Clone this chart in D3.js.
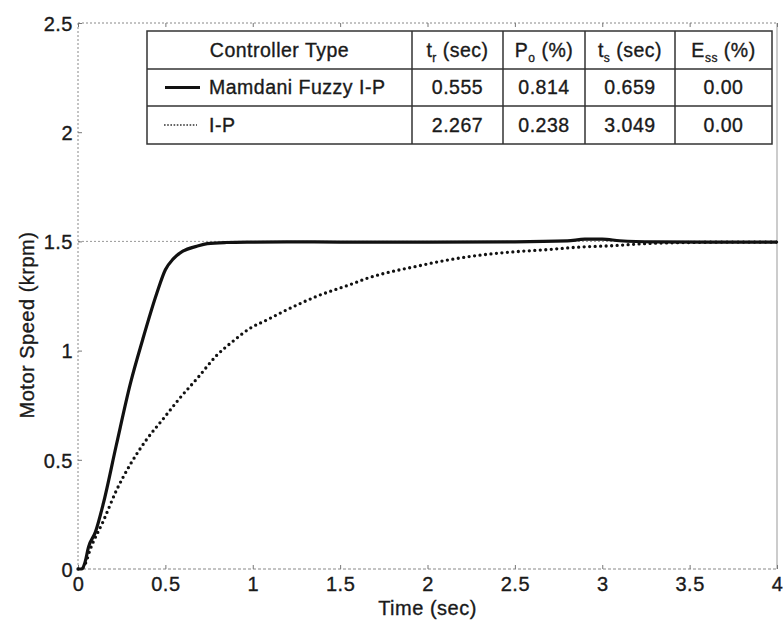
<!DOCTYPE html>
<html><head><meta charset="utf-8">
<script src="https://cdn.jsdelivr.net/npm/d3@7"></script>
<style>
body{margin:0;background:#fff;}
svg text{font-family:"Liberation Sans",Arial,sans-serif;fill:#1a1a1a;stroke:#1a1a1a;stroke-width:0.35px;letter-spacing:0.5px;}
</style></head><body>
<svg id="chart" width="783" height="629"></svg>
<script>
// ---- data ----
const tFuzzy = [0, 0.02, 0.04, 0.06, 0.10, 0.145, 0.22, 0.30, 0.37, 0.45, 0.50, 0.545, 0.60, 0.68, 0.74, 0.85, 1.0, 1.2, 1.5, 2.0, 2.5, 2.8, 2.9, 3.0, 3.1, 3.3, 3.6, 4.0];
const vFuzzy = [0, 0, 0.03, 0.10, 0.17, 0.30, 0.57, 0.85, 1.05, 1.26, 1.37, 1.42, 1.455, 1.478, 1.49, 1.495, 1.497, 1.498, 1.497, 1.497, 1.498, 1.502, 1.51, 1.51, 1.503, 1.498, 1.497, 1.497];
const tIP = [0, 0.02, 0.04, 0.07, 0.145, 0.22, 0.30, 0.39, 0.49, 0.58, 0.69, 0.79, 0.89, 0.98, 1.08, 1.17, 1.27, 1.37, 1.46, 1.55, 1.65, 1.75, 1.92, 2.11, 2.30, 2.49, 2.68, 2.87, 3.05, 3.25, 3.5, 3.75, 4.0];
const vIP = [0, 0, 0.02, 0.09, 0.22, 0.36, 0.48, 0.59, 0.69, 0.78, 0.88, 0.975, 1.045, 1.10, 1.14, 1.177, 1.215, 1.25, 1.276, 1.30, 1.33, 1.353, 1.383, 1.414, 1.437, 1.452, 1.462, 1.474, 1.48, 1.49, 1.495, 1.497, 1.497];
const xTicks = [0, 0.5, 1, 1.5, 2, 2.5, 3, 3.5, 4];
const yTicks = [0, 0.5, 1, 1.5, 2, 2.5];
const refLevel = 1.5;
const tableHeader = ["Controller Type", ["t","r"," (sec)"], ["P","o"," (%)"], ["t","s"," (sec)"], ["E","ss"," (%)"]];
const controllers = ["Mamdani Fuzzy I-P", "I-P"];
const riseTime = ["0.555", "2.267"];
const overshoot = ["0.814", "0.238"];
const settleTime = ["0.659", "3.049"];
const ssError = ["0.00", "0.00"];

// ---- layout ----
const L = 78, R = 777, T = 23, B = 569;
const svg = d3.select("#chart");
const x = d3.scaleLinear().domain([0, 4]).range([L, R]);
const y = d3.scaleLinear().domain([0, 2.5]).range([B, T]);

// frame
const frame = svg.append("g");
frame.append("line").attr("x1", L).attr("x2", R).attr("y1", T).attr("y2", T).attr("stroke", "#888").attr("stroke-dasharray", "2,2");
frame.append("line").attr("x1", L).attr("x2", L).attr("y1", T).attr("y2", B).attr("stroke", "#888").attr("stroke-dasharray", "2,2");
frame.append("line").attr("x1", R).attr("x2", R).attr("y1", T).attr("y2", B).attr("stroke", "#999");
frame.append("line").attr("x1", L).attr("x2", R).attr("y1", B).attr("y2", B).attr("stroke", "#888").attr("stroke-dasharray", "3,2");

// reference line at 1.5
svg.append("line").attr("x1", L).attr("x2", R).attr("y1", y(refLevel)).attr("y2", y(refLevel))
  .attr("stroke", "#999").attr("stroke-dasharray", "2,2");

// axes
const xAxis = svg.append("g").attr("transform", `translate(0,${B})`)
  .call(d3.axisBottom(x).tickValues(xTicks).tickFormat(d3.format("~g")).tickSizeInner(-4).tickSizeOuter(0).tickPadding(8));
const xAxisTop = svg.append("g").attr("transform", `translate(0,${T})`)
  .call(d3.axisTop(x).tickValues(xTicks).tickFormat("").tickSizeInner(-4).tickSizeOuter(0));
const yAxis = svg.append("g").attr("transform", `translate(${L},0)`)
  .call(d3.axisLeft(y).tickValues(yTicks).tickFormat(d3.format("~g")).tickSizeInner(-4).tickSizeOuter(0).tickPadding(5));
[xAxis, xAxisTop, yAxis].forEach(g => {
  g.select(".domain").remove();
  g.selectAll(".tick line").attr("stroke", "#777");
  g.selectAll("text").attr("font-size", 20).attr("fill", "#1a1a1a").attr("font-family", "Liberation Sans, Arial, sans-serif");
});
yAxis.selectAll("text").attr("dy", "0.36em");

svg.append("text").attr("x", x(2)).attr("y", 615).attr("text-anchor", "middle").attr("font-size", 20).text("Time (sec)");
svg.append("text").attr("transform", "translate(34,325) rotate(-90)").attr("text-anchor", "middle").attr("font-size", 20).text("Motor Speed (krpm)");

// curves
const line = d3.line().x(d => x(d[0])).y(d => y(d[1])).curve(d3.curveMonotoneX);
const ipData = tIP.map((t, i) => [t, vIP[i]]);
const fzData = tFuzzy.map((t, i) => [t, vFuzzy[i]]);
svg.append("path").datum(ipData).attr("d", line).attr("fill", "none").attr("stroke", "#111")
  .attr("stroke-width", 3.3).attr("stroke-linecap", "round").attr("stroke-dasharray", "0,5.5");
svg.append("path").datum(fzData).attr("d", line).attr("fill", "none").attr("stroke", "#111")
  .attr("stroke-width", 3.2).attr("stroke-linejoin", "round");

// table
const colX = [147, 412, 503, 585, 675, 772];
const rowY = [31, 69, 106, 144];
const tbl = svg.append("g");
tbl.append("rect").attr("x", colX[0]).attr("y", rowY[0]).attr("width", colX[5] - colX[0]).attr("height", rowY[3] - rowY[0])
  .attr("fill", "#fff").attr("stroke", "#333").attr("stroke-width", 1.5);
colX.slice(1, 5).forEach(cx => tbl.append("line").attr("x1", cx).attr("x2", cx).attr("y1", rowY[0]).attr("y2", rowY[3]).attr("stroke", "#333").attr("stroke-width", 1.5));
rowY.slice(1, 3).forEach(ry => tbl.append("line").attr("x1", colX[0]).attr("x2", colX[5]).attr("y1", ry).attr("y2", ry).attr("stroke", "#333").attr("stroke-width", 1.5));

const fs = 19.5;
const midY = i => (rowY[i] + rowY[i + 1]) / 2;
const midX = j => (colX[j] + colX[j + 1]) / 2;
tableHeader.forEach((h, j) => {
  const t = tbl.append("text").attr("x", midX(j)).attr("y", midY(0)).attr("dy", "0.35em")
    .attr("text-anchor", "middle").attr("font-size", fs);
  if (typeof h === "string") t.text(h);
  else {
    t.append("tspan").text(h[0]);
    t.append("tspan").attr("font-size", 12).attr("dy", 5).text(h[1]);
    t.append("tspan").attr("dy", -5).text(h[2]);
  }
});
const cols = [riseTime, overshoot, settleTime, ssError];
controllers.forEach((c, i) => {
  const yy = midY(i + 1);
  tbl.append("text").attr("x", 209).attr("y", yy).attr("dy", "0.35em").attr("font-size", fs).text(c);
  cols.forEach((arr, j) => {
    tbl.append("text").attr("x", midX(j + 1)).attr("y", yy).attr("dy", "0.35em").attr("text-anchor", "middle").attr("font-size", fs).text(arr[i]);
  });
});
// legend samples
tbl.append("line").attr("x1", 165).attr("x2", 200).attr("y1", midY(1)).attr("y2", midY(1)).attr("stroke", "#111").attr("stroke-width", 3);
tbl.append("line").attr("x1", 164).attr("x2", 197).attr("y1", midY(2)).attr("y2", midY(2)).attr("stroke", "#333").attr("stroke-width", 1.6).attr("stroke-dasharray", "1.6,1.6");
</script>
</body></html>
